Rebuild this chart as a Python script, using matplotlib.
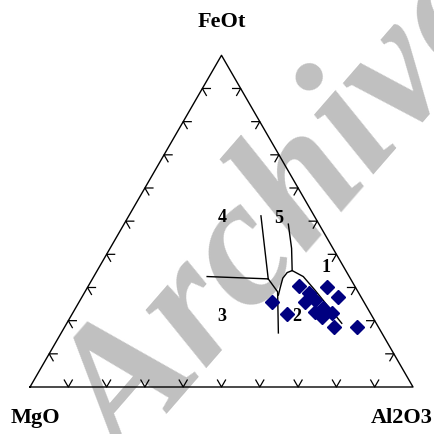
import numpy as np
import matplotlib
matplotlib.use('Agg')
import matplotlib.pyplot as plt

# サンプル組成 (wt%) : FeOt, MgO, Al2O3
feot = [25.5, 22.0, 30.4, 28.4, 25.7, 26.2, 22.7, 23.7, 22.4, 21.2, 18.2, 30.1, 27.2, 18.0]
mgo = [24.0, 22.0, 14.5, 12.9, 15.3, 12.5, 14.2, 11.6, 10.0, 13.2, 11.5, 7.5, 5.9, 5.5]
al2o3 = [50.5, 56.0, 55.1, 58.7, 59.0, 61.3, 63.1, 64.7, 67.6, 65.6, 70.3, 62.4, 66.9, 76.5]

# 判別線 (Pearce et al. 1977) : (FeOt, MgO, Al2O3)
line_3_4 = [(33.3, 37.1, 29.6), (32.6, 21.5, 45.9)]
line_4_5 = [(51.6, 13.9, 34.5), (32.6, 21.5, 45.9)]
line_2_3 = [(32.6, 21.5, 45.9), (28.7, 21.0, 50.3), (16.3, 27.0, 56.7)]
line_5_1 = [(49.1, 8.0, 42.9), (41.8, 10.8, 47.4), (35.1, 14.0, 50.9)]
line_2_1 = [(27.7, 21.3, 51.0), (29.8, 19.8, 50.4), (32.8, 17.6, 49.6),
            (34.5, 15.6, 49.9), (35.1, 14.0, 50.9), (33.3, 12.0, 54.7),
            (29.2, 11.0, 59.8), (19.2, 9.0, 71.8)]

field_labels = ['1', '2', '3', '4', '5']
label_pos = [(36.1, 4.7, 59.2), (21.2, 19.8, 59.0), (21.2, 39.3, 39.5),
             (51.2, 24.3, 24.5), (50.9, 9.6, 39.5)]


def tern2xy(fe, mg, al):
    fe = np.asarray(fe, dtype=float)
    mg = np.asarray(mg, dtype=float)
    al = np.asarray(al, dtype=float)
    s = fe + mg + al
    x = (al + fe / 2.0) / s
    y = fe / s * np.sqrt(3) / 2.0
    return x, y


fig = plt.figure(figsize=(4.34, 4.34), dpi=100)
ax = fig.add_axes([0, 0, 1, 1])
ax.set_xlim(-30 / 383, 404 / 383)
ax.set_ylim(-47 / 383, 387 / 383)
ax.axis('off')

# 透かし (線より下に描く)
ax.text(0.666, 0.498, 'Archive', transform=fig.transFigure, rotation=49,
        rotation_mode='anchor', ha='center', va='center', color='#c0c0c0',
        fontsize=132, family='Liberation Serif', weight='bold', style='italic',
        zorder=0, clip_on=False)

# 三角形
h = np.sqrt(3) / 2
ax.plot([0, 1, 0.5, 0], [0, 0, h, 0], color='black', lw=1.0, zorder=2)

# 目盛り
L = 0.021
for k in range(1, 10):
    t = k / 10
    # 底辺
    px, py = t, 0
    ax.plot([px - 0.5 * L, px, px + 0.5 * L], [py + h * L, py, py + h * L], color='black', lw=0.9, zorder=2)
    # 左辺
    px, py = 0.5 * t, h * t
    ax.plot([px + L, px, px + 0.5 * L], [py, py, py - h * L], color='black', lw=0.9, zorder=2)
    # 右辺
    px, py = 1 - 0.5 * t, h * t
    ax.plot([px - L, px, px - 0.5 * L], [py, py, py - h * L], color='black', lw=0.9, zorder=2)

# 判別線
for ln in [line_3_4, line_4_5, line_2_3, line_5_1, line_2_1]:
    fe, mg, al = zip(*ln)
    x, y = tern2xy(fe, mg, al)
    ax.plot(x, y, color='black', lw=1.0, zorder=2)

for lab, pos in zip(field_labels, label_pos):
    x, y = tern2xy(*pos)
    ax.text(x, y, lab, ha='center', va='center', fontsize=13,
            family='Liberation Serif', weight='bold', zorder=3)

# データ
x, y = tern2xy(feot, mgo, al2o3)
ax.plot(x, y, 'D', color='#000080', ms=6.8, mec='#000080', ls='none', zorder=4)

# 端成分ラベル
ax.text(0.5, 0.953, 'FeOt', ha='center', va='center', fontsize=16,
        family='Liberation Serif', weight='bold', zorder=3)
ax.text(0.013, -0.081, 'MgO', ha='center', va='center', fontsize=16,
        family='Liberation Serif', weight='bold', zorder=3)
ax.text(0.971, -0.081, 'Al2O3', ha='center', va='center', fontsize=16,
        family='Liberation Serif', weight='bold', zorder=3)

fig.savefig('out.png', dpi=100)
